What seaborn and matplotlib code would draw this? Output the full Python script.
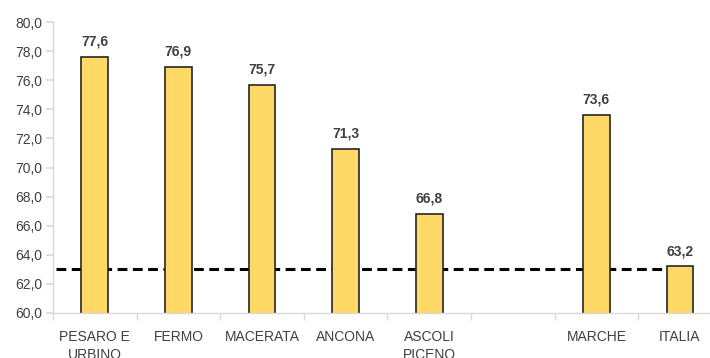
import matplotlib
matplotlib.use("Agg")
import matplotlib.pyplot as plt
import seaborn as sns
import numpy as np
import pandas as pd

categories = ["PESARO E\nURBINO", "FERMO", "MACERATA", "ANCONA", "ASCOLI\nPICENO", "", "MARCHE", "ITALIA"]
values = [77.6, 76.9, 75.7, 71.3, 66.8, np.nan, 73.6, 63.2]
reference_value = 63.0
yticks = [60, 62, 64, 66, 68, 70, 72, 74, 76, 78, 80]

sns.set_theme(style="white")
plt.rcParams['font.family'] = ['Liberation Sans', 'DejaVu Sans']

df = pd.DataFrame({"cat": categories, "val": values})

fig = plt.figure(figsize=(7.1, 3.58), dpi=100)
ax = fig.add_axes([53/710, 1-313/358, 8*83.6/710, (313-22)/358])

ax.plot([-0.46, 7], [reference_value, reference_value], color="black", lw=2.2,
        ls=(0, (3.2, 1.8)), zorder=1)
sns.barplot(data=df, x="cat", y="val", order=categories, color="#FFD966",
            edgecolor="#262626", linewidth=1.2, width=0.32, saturation=1, ax=ax, zorder=2)

for i, v in enumerate(values):
    if not np.isnan(v):
        ax.annotate(f"{v:.1f}".replace(".", ","), (i, v), xytext=(0, 6),
                    textcoords="offset points", ha="center", va="bottom",
                    fontsize=10, fontweight="bold", color="#404040")

ax.set_ylim(60, 80)
ax.set_xlim(-0.5, 7.5)
ax.set_yticks(yticks)
ax.set_yticklabels([f"{t:.1f}".replace(".", ",") for t in yticks], fontsize=10, color="#404040")
ax.set_xticks(range(len(categories)))
ax.set_xticklabels(categories, fontsize=10, color="#404040", linespacing=1.35)
ax.set_xticks(np.arange(-0.5, 8, 1), minor=True)
ax.tick_params(axis="x", which="major", length=0, pad=12)
ax.tick_params(axis="x", which="minor", length=5, color="#D9D9D9", direction="out", bottom=True)
ax.tick_params(axis="y", length=5, color="#D9D9D9", direction="out", left=True, pad=3)
ax.set_xlabel("")
ax.set_ylabel("")
for s in ["top", "right"]:
    ax.spines[s].set_visible(False)
for s in ["left", "bottom"]:
    ax.spines[s].set_color("#D9D9D9")
    ax.spines[s].set_linewidth(1)

fig.savefig("out.png", dpi=100)
